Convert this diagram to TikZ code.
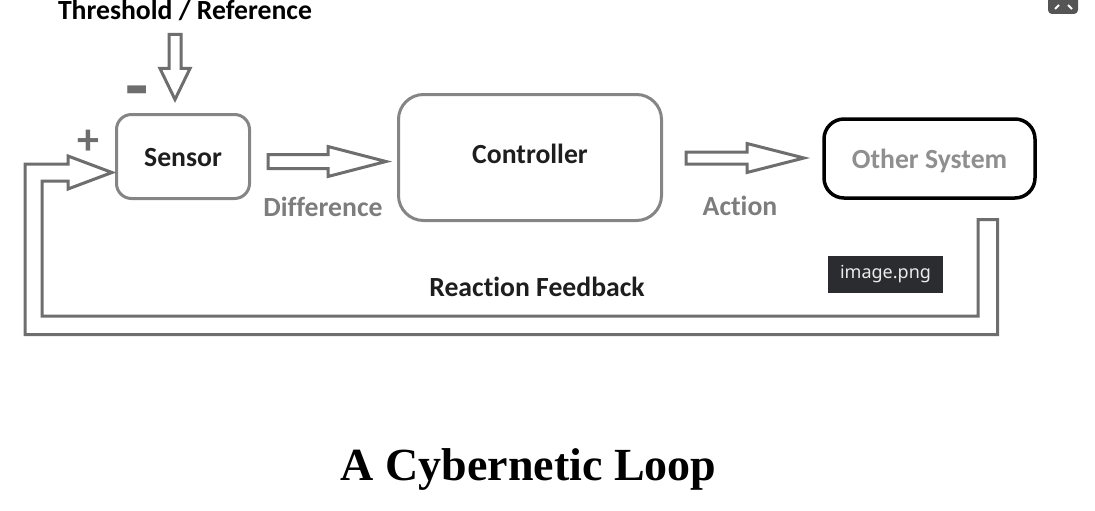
\documentclass[tikz,border=0pt]{standalone}
\usepackage{fontspec}
\setmainfont[Ligatures=NoCommon]{Carlito}
\newfontfamily\titlefont{Liberation Serif}
\newfontfamily\badgefont{Noto Sans}
\usetikzlibrary{calc}
\definecolor{boxgray}{RGB}{133, 133, 133}
\definecolor{arrowgray}{RGB}{110, 110, 110}
\definecolor{textgray}{RGB}{125, 125, 125}
\definecolor{paletext}{RGB}{143, 143, 143}
\definecolor{inkblack}{RGB}{30, 30, 30}
\definecolor{badgebg}{RGB}{43, 44, 48}
\definecolor{iconbg}{RGB}{85, 85, 85}
\newcommand\diagfont{\fontsize{27.7}{30}\selectfont\bfseries}

\tikzset{
  block/.style={draw=boxgray, line width=3pt, rounded corners=15pt, inner sep=0pt, outer sep=0pt,
                text=inkblack, text height=19pt, text depth=0pt, font=\diagfont},
  hollow/.style={draw=arrowgray, fill=white, line width=3pt},
  tag/.style={anchor=base, inner sep=0pt, font=\diagfont}
}

\begin{document}
\begin{tikzpicture}[x=1pt, y=-1pt]
            \useasboundingbox (0,0) rectangle (1095,511);
            % boxes
            \node[block, minimum width=133, minimum height=84]                     (sensor)     at ( 183.0, 156.5) {Sensor};
            \node[block, minimum width=263, minimum height=126, rounded corners=25pt,
                  text height=18pt, text depth=7pt]                                 (controller) at ( 530.0, 157.5) {Controller};
            \node[block, minimum width=211, minimum height=79, draw=black, line width=3.5pt,
                  rounded corners=20pt, text=paletext]                              (other)      at ( 929.5, 158.5) {Other System};
            % labels
            \node[tag, text=black]     (threshold)  at ( 185.0,  20.0) {Threshold / Reference};
            \node[tag, text=textgray]  (difference) at ( 323.0, 216.0) {Difference};
            \node[tag, text=textgray]  (action)     at ( 740.0, 215.0) {Action};
            \node[tag, text=inkblack]  (feedback)   at ( 537.0, 296.0) {Reaction Feedback};
            \node[tag, text=arrowgray, font=\fontsize{76}{76}\selectfont\bfseries] (minus) at ( 137.0, 111.0) {-};
            \node[tag, text=arrowgray, font=\fontsize{44}{44}\selectfont\bfseries] (plus)  at (  88.0, 154.0) {+};
            % hollow arrows
            \coordinate (thr tip)  at ($(sensor.north)+(-8,-15)$);
            \coordinate (diff tip) at ($(controller.west)+(-12.5,4)$);
            \coordinate (act tip)  at ($(other.west)+(-20,-0.5)$);
            \coordinate (fb in)    at ($(other.south)+(48.5,21.5)$);
            \coordinate (fb tip)   at ($(sensor.west)+(-4.5,16)$);
            \draw[hollow] (thr tip) -- ++(-15,-31) -- ++(9,0) -- ++(0,-34) -- ++(12,0) -- ++(0,34) -- ++(9,0) -- cycle;
            \draw[hollow] (diff tip) -- ++(-58,-15) -- ++(0,8) -- ++(-60,0) -- ++(0,14) -- ++(60,0) -- ++(0,8) -- cycle;
            \draw[hollow] (act tip) -- ++(-57,-14.5) -- ++(0,8.5) -- ++(-61,0) -- ++(0,12) -- ++(61,0) -- ++(0,8.5) -- cycle;
            \draw[hollow] (fb in) -- ++(19.5,0) -- ++(0,115) -- ++(-972.5,0) -- ++(0,-170.5) -- ++(43,0) -- ++(0,-8)
                 -- (fb tip) -- ++(-44,16.5) -- ++(0,-8) -- ++(-26,0) -- ++(0,135) -- ++(936,0) -- cycle;
            % title
            \node[anchor=base, inner sep=0pt, font=\titlefont\bfseries\fontsize{46}{50}\selectfont, text=black] (title) at ( 528.5, 480.0) {A Cybernetic Loop};
            % viewer overlay
            \node[fill=badgebg, text=white!92!black, minimum width=115, minimum height=37, inner sep=0pt,
                  font=\badgefont\fontsize{18}{20}\selectfont] (badge) at ( 885.5, 274.5) {image.png};
            \fill[iconbg, rounded corners=4pt] (1048,-6) rectangle (1078,14);
            \draw[white, line width=2pt] (1055,9) -- (1059,5) (1068,5) -- (1072,9);
        \end{tikzpicture}
\end{document}
